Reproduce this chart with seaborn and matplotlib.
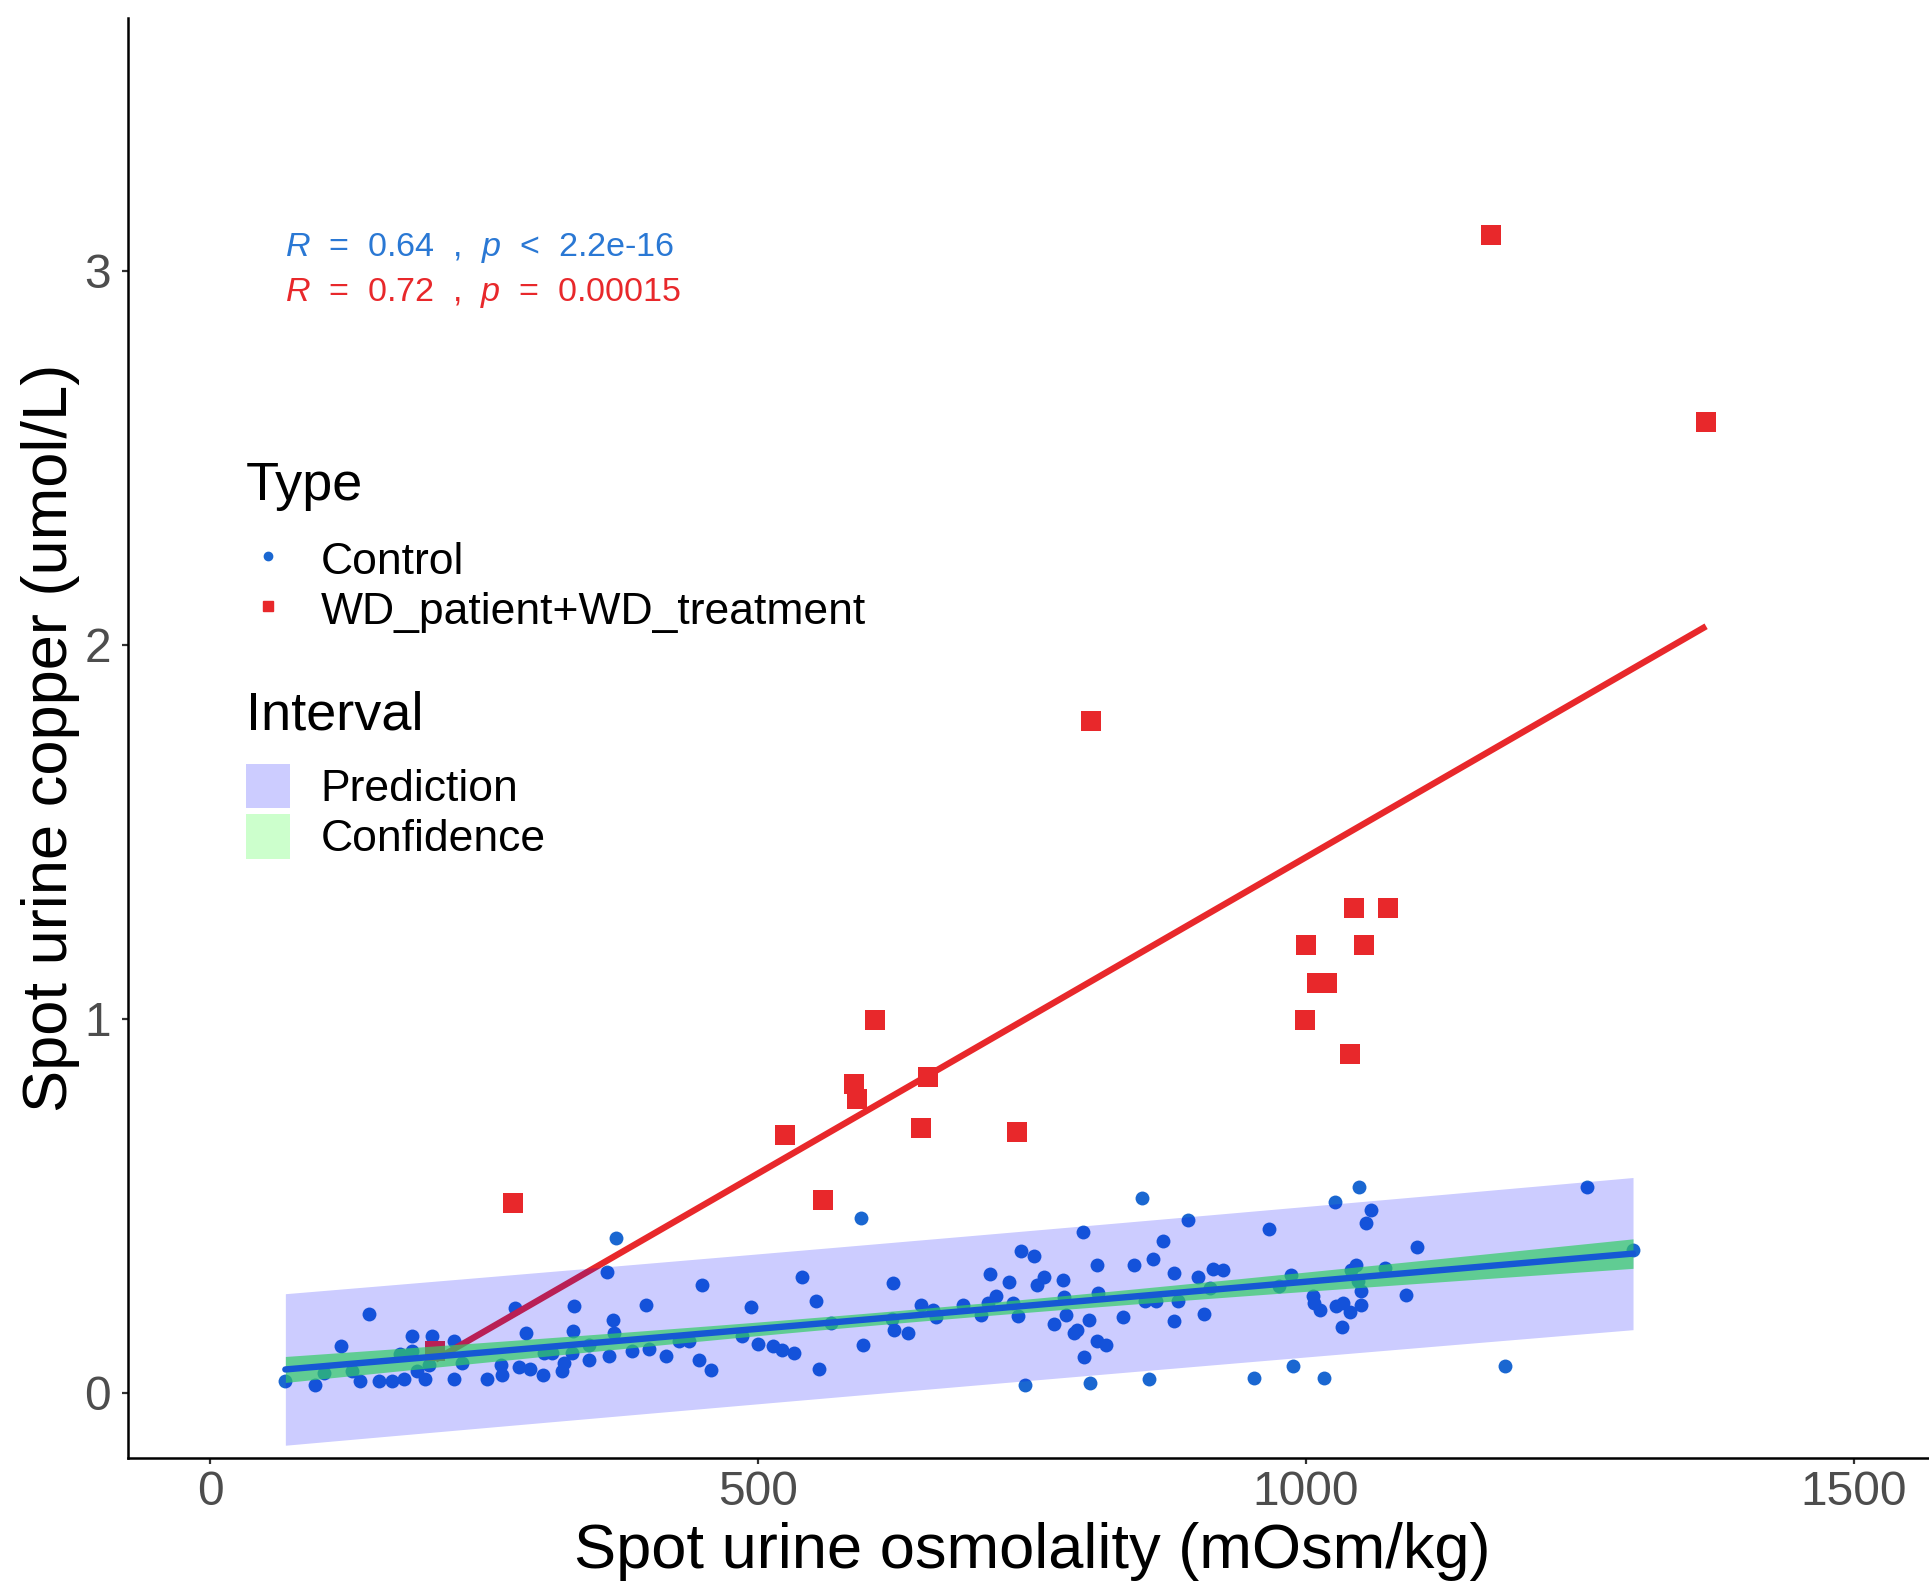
import numpy as np
import pandas as pd
import matplotlib
matplotlib.use("Agg")
import matplotlib.pyplot as plt
import seaborn as sns
from matplotlib.lines import Line2D
from matplotlib.patches import Patch

# ---------------- data ----------------
control_x = [68.6, 96, 103.6, 119.7, 144.7, 129.4, 137, 153.8, 166, 176.6, 173.6, 184.2, 184.2,
             196.4, 202.5, 199.6, 222.3, 222.3, 229.9, 252.7, 188.5,
             370.8, 362.3, 448.5, 278.6, 331.9, 397.4, 287.8, 331.3, 367.5, 368.4, 345.6, 304.5,
             312, 330.4, 363.9, 345.6, 385.2, 400.4, 415.6, 427.8, 437, 446, 456.8, 265, 266.4,
             281.7, 292.3, 303.9, 321.2, 322.8,
             594.3, 540.4, 623.3, 493.8, 552.7, 566.4, 485.6, 500.2, 513.6, 522.1, 532.8, 555.7,
             595.9, 624.2, 637.2, 648.5, 659.2, 662.2, 622.3,
             850, 796.2, 869.2, 739.9, 751.4, 860, 808.9, 842.7, 711.8, 728.6, 760.5, 755, 777.9,
             717, 709.4, 686.6, 733.1, 778.8, 809.9, 703.4, 736.8, 781, 770.3, 802.3, 832.7, 791.5,
             788.5, 809.3, 817.5, 797.1, 743.8, 802.9, 857, 852.7, 863.4, 880, 880,
             1048.8, 1026.6, 1059.5, 1054.9, 892, 966.7, 901.2, 915, 924.2, 912.2, 882.9, 907.3,
             986.5, 975.8, 1045.8, 1041.3, 1047.3, 1050.4, 1072.6, 1006.2, 1007.8, 1012.4, 1027.6,
             1033.7, 1039.8, 1049.8, 1033.1, 953, 987.9, 1016.3,
             1256.8, 1101.6, 1090.9, 1181.3, 1298.5]
control_y = [0.030, 0.021, 0.052, 0.124, 0.211, 0.057, 0.030, 0.030, 0.030, 0.036, 0.102, 0.150, 0.110,
             0.035, 0.150, 0.075, 0.137, 0.035, 0.079, 0.035, 0.057,
             0.413, 0.322, 0.289, 0.226, 0.231, 0.233, 0.159, 0.164, 0.195, 0.159, 0.128, 0.106,
             0.106, 0.106, 0.099, 0.088, 0.110, 0.117, 0.097, 0.137, 0.137, 0.088, 0.061, 0.075, 0.048,
             0.068, 0.064, 0.046, 0.057, 0.079,
             0.467, 0.309, 0.293, 0.229, 0.246, 0.186, 0.150, 0.131, 0.124, 0.115, 0.106, 0.064,
             0.126, 0.168, 0.159, 0.233, 0.222, 0.202, 0.196,
             0.520, 0.429, 0.406, 0.378, 0.366, 0.357, 0.340, 0.342, 0.318, 0.295, 0.309, 0.289, 0.300,
             0.259, 0.240, 0.233, 0.240, 0.256, 0.266, 0.208, 0.204, 0.208, 0.183, 0.195, 0.201, 0.168,
             0.159, 0.137, 0.126, 0.095, 0.021, 0.026, 0.035, 0.244, 0.244, 0.320, 0.191,
             0.549, 0.510, 0.487, 0.454, 0.461, 0.438, 0.308, 0.331, 0.329, 0.280, 0.244, 0.211,
             0.315, 0.284, 0.342, 0.329, 0.298, 0.271, 0.333, 0.257, 0.240, 0.220, 0.231,
             0.240, 0.215, 0.235, 0.175, 0.039, 0.070, 0.039,
             0.549, 0.389, 0.260, 0.070, 0.382]

wd_x = [205.6, 276.4, 524.7, 559.6, 587.6, 589.9, 606.7, 648.3, 655, 736, 803.4, 998.9, 1000,
        1010, 1019, 1040.4, 1043.8, 1052.8, 1075.3, 1168.5, 1365.2]
wd_y = [0.112, 0.507, 0.688, 0.516, 0.826, 0.786, 0.997, 0.707, 0.845, 0.697, 1.796, 0.997, 1.197,
        1.095, 1.095, 0.905, 1.296, 1.197, 1.296, 3.095, 2.595]

type_labels = ["Control", "WD_patient+WD_treatment"]
interval_labels = ["Prediction", "Confidence"]
cor_labels = [r"$\it{R}$  =  0.64  ,  $\it{p}$  <  2.2e-16",
              r"$\it{R}$  =  0.72  ,  $\it{p}$  =  0.00015"]
x_ticks = [0, 500, 1000, 1500]
y_ticks = [0, 1, 2, 3]
x_label = "Spot urine osmolality (mOsm/kg)"
y_label = "Spot urine copper (umol/L)"

# ---------------- style ----------------
BLUE = "#1a67d1"
BLUE_LINE = "#1658d4"
RED = "#e8282b"
PRED_FILL = "#0000ff"
CONF_FILL = "#33cc66"

sns.set_theme(style="white")
plt.rcParams["font.family"] = ["Liberation Sans", "DejaVu Sans"]
plt.rcParams["mathtext.fontset"] = "custom"
plt.rcParams["mathtext.it"] = "Liberation Sans:italic"
plt.rcParams["mathtext.rm"] = "Liberation Sans"
plt.rcParams["text.color"] = "black"
plt.rcParams["axes.labelcolor"] = "black"

df = pd.DataFrame({
    "osm": control_x + wd_x,
    "cu": control_y + wd_y,
    "Type": [type_labels[0]] * len(control_x) + [type_labels[1]] * len(wd_x),
})
ctrl = df[df["Type"] == type_labels[0]]
wd = df[df["Type"] == type_labels[1]]

W, H = 1929, 1583
fig = plt.figure(figsize=(W / 100, H / 100), dpi=100)
ax = fig.add_axes([128 / W, 125 / H, (1936 - 128) / W, (1458 - 18.5) / H])

# points
sns.scatterplot(data=ctrl, x="osm", y="cu", color=BLUE, marker="o", s=100,
                linewidth=0, ax=ax, legend=False, zorder=2)
sns.scatterplot(data=wd, x="osm", y="cu", color=RED, marker="s", s=190,
                linewidth=0, ax=ax, legend=False, zorder=2)

# WD regression line (no band)
sns.regplot(data=wd, x="osm", y="cu", scatter=False, ci=None, ax=ax,
            line_kws=dict(color=RED, lw=4.6, zorder=2.5, solid_capstyle="butt"))

# Control regression with confidence / prediction intervals
x = ctrl["osm"].to_numpy()
y = ctrl["cu"].to_numpy()
n = len(x)
b1, b0 = np.polyfit(x, y, 1)
xs = np.linspace(x.min(), x.max(), 200)
yhat = b0 + b1 * xs
resid = y - (b0 + b1 * x)
s = np.sqrt(resid @ resid / (n - 2))
sxx = ((x - x.mean()) ** 2).sum()
tval = 1.976
se_fit = s * np.sqrt(1 / n + (xs - x.mean()) ** 2 / sxx)
se_pred = s * np.sqrt(1 + 1 / n + (xs - x.mean()) ** 2 / sxx)

ax.fill_between(xs, yhat - tval * se_pred, yhat + tval * se_pred,
                color=PRED_FILL, alpha=0.2, linewidth=0, zorder=3)
ax.fill_between(xs, yhat - tval * se_fit, yhat + tval * se_fit,
                color=CONF_FILL, alpha=0.7, linewidth=0, zorder=3.5)
sns.lineplot(x=xs, y=yhat, color=BLUE_LINE, lw=4.6, ax=ax, zorder=4)

# correlation labels
ax.text(68, 3.06, cor_labels[0], color="#2a78d4", fontsize=24.6, ha="left", va="center")
ax.text(68, 2.94, cor_labels[1], color=RED, fontsize=24.6, ha="left", va="center")

# axes
ax.set_xlim(-75, 1575)
ax.set_ylim(-0.175, 3.675)
ax.set_xticks(x_ticks)
ax.set_yticks(y_ticks)
ax.set_xlabel(x_label, fontsize=45.5, labelpad=5)
ax.set_ylabel(y_label, fontsize=45.5, labelpad=3)
ax.tick_params(axis="both", labelsize=34.5, labelcolor="#4d4d4d", color="#333333",
               length=4.5, width=1.6, direction="out", bottom=True, left=True)
ax.tick_params(axis="x", pad=4)
ax.tick_params(axis="y", pad=8)
for sp in ["top", "right"]:
    ax.spines[sp].set_visible(False)
for sp in ["left", "bottom"]:
    ax.spines[sp].set_color("black")
    ax.spines[sp].set_linewidth(1.8)
ax.grid(False)

# legends
fig.text(246 / W, 1 - 486 / H, "Type", fontsize=39, ha="left", va="center")
fig.text(246 / W, 1 - 715 / H, "Interval", fontsize=39, ha="left", va="center")

leg_kw = dict(loc="upper left", frameon=False, fontsize=32, handlelength=1.0,
              handleheight=1.16, handletextpad=0.68, labelspacing=0.09,
              borderpad=0, borderaxespad=0)
type_handles = [Line2D([], [], ls="", marker="o", color=BLUE, markersize=6),
                Line2D([], [], ls="", marker="s", color=RED, markersize=7)]
leg1 = fig.legend(type_handles, type_labels, bbox_to_anchor=(246 / W, 1 - 537 / H), **leg_kw)
int_handles = [Patch(facecolor="#ccccff", edgecolor="none"),
               Patch(facecolor="#ccffcc", edgecolor="none")]
leg2 = fig.legend(int_handles, interval_labels, bbox_to_anchor=(246 / W, 1 - 764 / H), **leg_kw)

fig.savefig("out.png", dpi=100)
